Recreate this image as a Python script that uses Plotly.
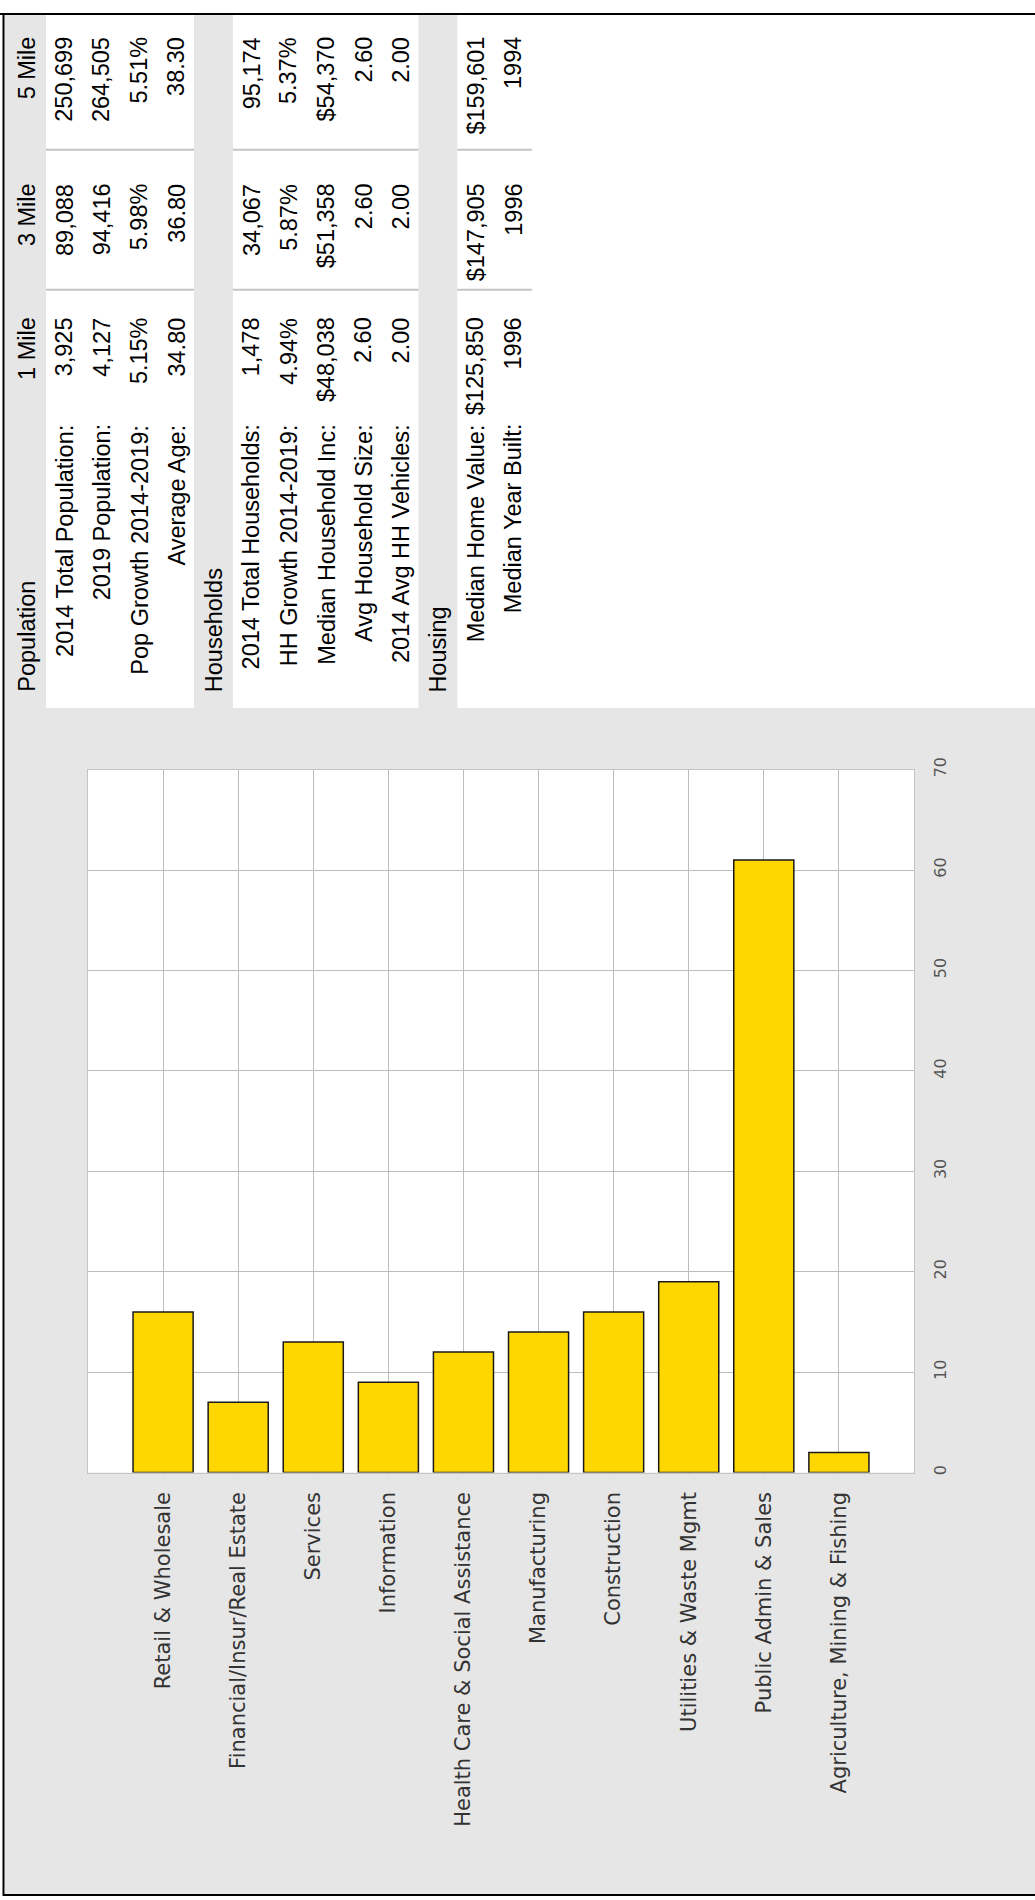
import plotly.graph_objects as go

# ---------------- data ----------------
categories = ["Retail & Wholesale", "Financial/Insur/Real Estate", "Services", "Information",
              "Health Care & Social Assistance", "Manufacturing", "Construction",
              "Utilities & Waste Mgmt", "Public Admin & Sales", "Agriculture, Mining & Fishing"]
employees = [16, 7, 13, 9, 12, 14, 16, 19, 61, 2]
value_ticks = [0, 10, 20, 30, 40, 50, 60, 70]

col_headers = ["1 Mile", "3 Mile", "5 Mile"]

section_titles = ["Population", "Households", "Housing"]

pop_labels = ["2014 Total Population:", "2019 Population:", "Pop Growth 2014-2019:", "Average Age:"]
pop_1mi = ["3,925", "4,127", "5.15%", "34.80"]
pop_3mi = ["89,088", "94,416", "5.98%", "36.80"]
pop_5mi = ["250,699", "264,505", "5.51%", "38.30"]

hh_labels = ["2014 Total Households:", "HH Growth 2014-2019:", "Median Household Inc:",
             "Avg Household Size:", "2014 Avg HH Vehicles:"]
hh_1mi = ["1,478", "4.94%", "$48,038", "2.60", "2.00"]
hh_3mi = ["34,067", "5.87%", "$51,358", "2.60", "2.00"]
hh_5mi = ["95,174", "5.37%", "$54,370", "2.60", "2.00"]

housing_labels = ["Median Home Value:", "Median Year Built:"]
housing_1mi = ["$125,850", "1996"]
housing_3mi = ["$147,905", "1996"]
housing_5mi = ["$159,601", "1994"]

# ---------------- layout helpers ----------------
W, H = 1035, 1900


def px(x):
    return x / W


def py(y):
    return 1 - y / H


fig = go.Figure()

fig.add_trace(go.Bar(
    x=categories, y=employees, width=0.8,
    marker=dict(color="#FFD700", line=dict(color="#1a1a1a", width=1.5)),
    showlegend=False,
))

shapes = []
annotations = []

# outer gray chart panel
shapes.append(dict(type="rect", xref="paper", yref="paper", x0=px(5), x1=1, y0=py(1897), y1=py(701),
                   fillcolor="#e6e6e6", line=dict(width=0), layer="below"))
# white plot area
shapes.append(dict(type="rect", xref="paper", yref="paper", x0=px(88), x1=px(914), y0=py(1472), y1=py(763),
                   fillcolor="white", line=dict(width=0), layer="below"))

# ---------------- table (rotated) ----------------
sections = [
    (section_titles[0], pop_labels, pop_1mi, pop_3mi, pop_5mi),
    (section_titles[1], hh_labels, hh_1mi, hh_3mi, hh_5mi),
    (section_titles[2], housing_labels, housing_1mi, housing_3mi, housing_5mi),
]
ROW0, PITCH = 27.0, 37.4
LABEL_END = 414
COL_END = [306, 171, 23]
HEADER_START = 686
SEP_Y = [138, 279]
font_tbl = dict(family="Liberation Sans, Arial", size=23.5, color="black")

n_rows = sum(1 + len(s[1]) for s in sections)
table_right = ROW0 + PITCH * (n_rows - 1) + PITCH / 2

# column separator lines
for sy in SEP_Y:
    shapes.append(dict(type="line", xref="paper", yref="paper", x0=px(46), x1=px(table_right),
                       y0=py(sy), y1=py(sy), line=dict(color="#c4c4c4", width=2), layer="below"))

i = 0
for si, (title, labels, c1, c3, c5) in enumerate(sections):
    cx = ROW0 + PITCH * i
    shapes.append(dict(type="rect", xref="paper", yref="paper",
                       x0=px(cx - 20 if si else 5), x1=px(cx + 19), y0=py(701), y1=py(2),
                       fillcolor="#e6e6e6", line=dict(width=0), layer="below"))
    annotations.append(dict(text=title, x=px(cx), y=py(HEADER_START), xref="paper", yref="paper",
                            xanchor="center", yanchor="bottom", textangle=-90, showarrow=False,
                            font=font_tbl, borderpad=0))
    if si == 0:
        for k, h in enumerate(col_headers):
            annotations.append(dict(text=h, x=px(cx), y=py(COL_END[k]), xref="paper", yref="paper",
                                    xanchor="center", yanchor="top", textangle=-90, showarrow=False,
                                    font=font_tbl, borderpad=0))
    i += 1
    for r, lab in enumerate(labels):
        cx = ROW0 + PITCH * i
        annotations.append(dict(text=lab, x=px(cx), y=py(LABEL_END), xref="paper", yref="paper",
                                xanchor="center", yanchor="top", textangle=-90, showarrow=False,
                                font=font_tbl, borderpad=0))
        for k, vals in enumerate((c1, c3, c5)):
            annotations.append(dict(text=vals[r], x=px(cx), y=py(COL_END[k]), xref="paper", yref="paper",
                                    xanchor="center", yanchor="top", textangle=-90, showarrow=False,
                                    font=font_tbl, borderpad=0))
        i += 1

# outer frame
shapes.append(dict(type="line", xref="paper", yref="paper", x0=0, x1=1, y0=py(1), y1=py(1),
                   line=dict(color="black", width=2)))
shapes.append(dict(type="line", xref="paper", yref="paper", x0=px(3.5), x1=px(3.5), y0=py(0), y1=py(1899),
                   line=dict(color="black", width=2)))
shapes.append(dict(type="line", xref="paper", yref="paper", x0=px(3), x1=1, y0=py(1898), y1=py(1898),
                   line=dict(color="black", width=2)))

fig.update_layout(
    width=W, height=H, autosize=False,
    margin=dict(l=0, r=0, t=0, b=0),
    paper_bgcolor="white", plot_bgcolor="white",
    shapes=shapes, annotations=annotations,
    bargap=0.2,
    xaxis=dict(domain=[px(88), px(914)], range=[-1, len(categories)], type="category",
               showgrid=True, gridcolor="#bdbdbd", gridwidth=1,
               tickangle=-90, tickfont=dict(family="DejaVu Sans", size=21, color="#333333"),
               ticks="", ticklabelstandoff=10,
               showline=True, linecolor="#c4c4c4", linewidth=1, mirror=True, zeroline=False),
    yaxis=dict(domain=[py(1472), py(763)], range=[0, 70], tickvals=value_ticks, side="right",
               showgrid=True, gridcolor="#bdbdbd", gridwidth=1,
               tickangle=-90, tickfont=dict(family="DejaVu Sans", size=16, color="#555555"),
               ticks="", ticklabelstandoff=12,
               showline=True, linecolor="#c4c4c4", linewidth=1, mirror=True, zeroline=False),
)

fig.write_html("out.html")
